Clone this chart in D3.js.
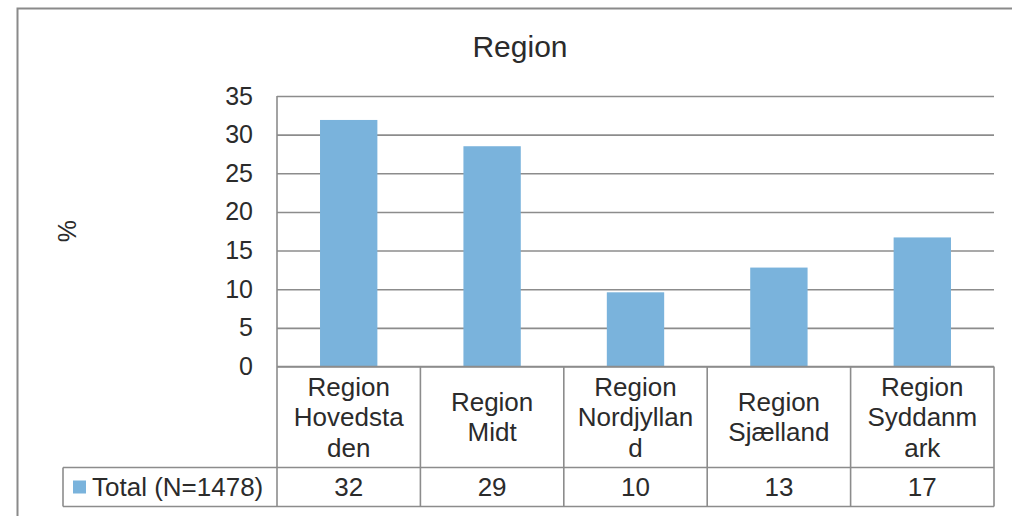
<!DOCTYPE html>
<html>
<head>
<meta charset="utf-8">
<script src="https://cdn.jsdelivr.net/npm/d3@7"></script>
<style>
  html, body { margin: 0; padding: 0; background: #ffffff; }
  svg { display: block; }
  text { font-family: "Liberation Sans", Arial, sans-serif; fill: #2b2b2b; }
</style>
</head>
<body>
<svg id="chart" width="1012" height="516"></svg>
<script>
// ---- data ----
const title = "Region";
const yAxisTitle = "%";
const seriesName = "Total (N=1478)";
const categories = ["Region Hovedstaden", "Region Midt", "Region Nordjylland", "Region Sjælland", "Region Syddanmark"];
const categoryLabelLines = [
  ["Region", "Hovedsta", "den"],
  ["Region", "Midt"],
  ["Region", "Nordjyllan", "d"],
  ["Region", "Sjælland"],
  ["Region", "Syddanm", "ark"]
];
const values = [31.9, 28.5, 9.6, 12.8, 16.7];
const tableLabels = ["32", "29", "10", "13", "17"];
const yTicks = [0, 5, 10, 15, 20, 25, 30, 35];

// ---- layout ----
const svg = d3.select("#chart");
const plot = { left: 277, right: 994, top: 96, bottom: 366.5 };
const tableRow1Bottom = 467.5;
const tableBottom = 506.5;
const legendLeft = 63;
const gridColor = "#8c8c8c";
const barColor = "#7ab3dc";

// outer chart border
svg.append("rect")
  .attr("x", 17.5).attr("y", 8.5)
  .attr("width", 1100).attr("height", 600)
  .attr("fill", "none").attr("stroke", "#8a8a8a").attr("stroke-width", 2);

const x = d3.scaleBand().domain(categories).range([plot.left, plot.right]).padding(0);
const xb = d3.scaleBand().domain(categories).range([plot.left, plot.right])
  .paddingInner(0.6).paddingOuter(0.3);
const y = d3.scaleLinear().domain([0, 35]).range([plot.bottom, plot.top]);

// gridlines
svg.append("g")
  .attr("transform", `translate(${plot.left},0)`)
  .call(d3.axisLeft(y).tickValues(yTicks).tickSize(-(plot.right - plot.left)).tickFormat(""))
  .call(g => g.select(".domain").remove())
  .call(g => g.selectAll("line").attr("stroke", gridColor).attr("stroke-width", 1.6));

// bars
svg.append("g").selectAll("rect")
  .data(values)
  .join("rect")
  .attr("x", (d, i) => xb(categories[i]))
  .attr("width", xb.bandwidth())
  .attr("y", d => y(d))
  .attr("height", d => y(0) - y(d))
  .attr("fill", barColor);

// y tick labels
svg.append("g")
  .attr("transform", `translate(${plot.left},0)`)
  .call(d3.axisLeft(y).tickValues(yTicks).tickSize(0).tickPadding(24))
  .call(g => g.select(".domain").remove())
  .call(g => g.selectAll("text")
    .style("font-family", '"Liberation Sans", Arial, sans-serif')
    .attr("font-size", 25).attr("fill", "#2b2b2b"));

// y axis line (extends through table)
svg.append("line")
  .attr("x1", plot.left).attr("x2", plot.left)
  .attr("y1", plot.top).attr("y2", tableBottom)
  .attr("stroke", gridColor).attr("stroke-width", 1.6);

// table horizontal lines
svg.append("line")
  .attr("x1", plot.left).attr("x2", plot.right)
  .attr("y1", plot.bottom).attr("y2", plot.bottom)
  .attr("stroke", gridColor).attr("stroke-width", 1.6);
[tableRow1Bottom, tableBottom].forEach(yy => {
  svg.append("line")
    .attr("x1", legendLeft).attr("x2", plot.right)
    .attr("y1", yy).attr("y2", yy)
    .attr("stroke", gridColor).attr("stroke-width", 1.6);
});
svg.append("line")
  .attr("x1", legendLeft).attr("x2", legendLeft)
  .attr("y1", tableRow1Bottom).attr("y2", tableBottom)
  .attr("stroke", gridColor).attr("stroke-width", 1.6);

// table vertical lines
svg.append("g").selectAll("line")
  .data(categories)
  .join("line")
  .attr("x1", d => x(d) + x.bandwidth()).attr("x2", d => x(d) + x.bandwidth())
  .attr("y1", plot.bottom).attr("y2", tableBottom)
  .attr("stroke", gridColor).attr("stroke-width", 1.6);

// category labels
const lineH = 30.5;
const row1Mid = (plot.bottom + tableRow1Bottom) / 2;
const catG = svg.append("g").selectAll("text")
  .data(categories)
  .join("text")
  .attr("text-anchor", "middle")
  .attr("font-size", 26);
catG.each(function(d, i) {
  const lines = categoryLabelLines[i];
  const t = d3.select(this);
  const cx = x(d) + x.bandwidth() / 2;
  const start = row1Mid - (lines.length - 1) * lineH / 2;
  lines.forEach((ln, j) => {
    t.append("tspan")
      .attr("x", cx)
      .attr("y", start + j * lineH)
      .attr("dy", "0.35em")
      .text(ln);
  });
});

// table values
const row2Mid = (tableRow1Bottom + tableBottom) / 2;
svg.append("g").selectAll("text")
  .data(tableLabels)
  .join("text")
  .attr("x", (d, i) => x(categories[i]) + x.bandwidth() / 2)
  .attr("y", row2Mid)
  .attr("dy", "0.35em")
  .attr("text-anchor", "middle")
  .attr("font-size", 26)
  .text(d => d);

// legend key + series name
svg.append("rect")
  .attr("x", 73).attr("y", row2Mid - 6.5)
  .attr("width", 13).attr("height", 13)
  .attr("fill", barColor);
svg.append("text")
  .attr("x", 92).attr("y", row2Mid)
  .attr("dy", "0.35em")
  .attr("font-size", 26)
  .text(seriesName);

// title
svg.append("text")
  .attr("x", 520).attr("y", 57)
  .attr("text-anchor", "middle")
  .attr("font-size", 30)
  .text(title);

// y axis title
svg.append("text")
  .attr("transform", `translate(67,${(plot.top + plot.bottom) / 2}) rotate(-90)`)
  .attr("text-anchor", "middle")
  .attr("dy", "0.35em")
  .attr("font-size", 25)
  .text(yAxisTitle);
</script>
</body>
</html>
